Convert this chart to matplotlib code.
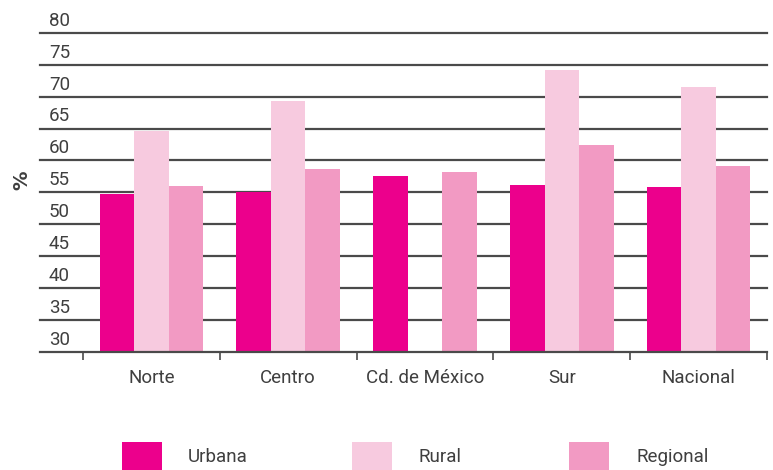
import matplotlib
matplotlib.use("Agg")
import matplotlib.pyplot as plt
from matplotlib.patches import Rectangle
import numpy as np

categories = ["Norte", "Centro", "Cd. de México", "Sur", "Nacional"]
series_names = ["Urbana", "Rural", "Regional"]
urbana = [54.8, 55.0, 57.6, 56.2, 55.9]
rural = [64.7, 69.4, np.nan, 74.2, 71.5]
regional = [56.0, 58.7, 58.2, 62.5, 59.2]
yticks = [30, 35, 40, 45, 50, 55, 60, 65, 70, 75, 80]

colors = ["#EC008C", "#F7CADF", "#F29AC3"]
text_color = "#3f3f3f"
fam = ["Roboto", "DejaVu Sans"]
fs = 13.5
tkw = dict(family=fam, fontsize=fs, fontweight="normal")

W, H = 773, 470
fig = plt.figure(figsize=(W / 100, H / 100), dpi=100)
ax = fig.add_axes([40 / W, (H - 351.7) / H, (767 - 40) / W, (351.7 - 33) / H])

x = np.arange(len(categories))
bw = 0.252
for i, (vals, c) in enumerate(zip([urbana, rural, regional], colors)):
    v = np.array(vals, dtype=float)
    ax.bar(x + (i - 1) * bw, v - 30, bottom=30, width=bw, color=c, zorder=3,
           linewidth=0)

ax.set_xlim(-0.814, 4.5)
ax.set_ylim(30, 80)

for yv in yticks:
    if yv > 30:
        ax.axhline(yv, color="#4a4a4a", lw=1.6, zorder=1, clip_on=False)
    ax.annotate(str(yv), xy=(0.0124, yv), xycoords=ax.get_yaxis_transform(),
                xytext=(0, 2.3), textcoords="offset points", ha="left", va="bottom",
                color=text_color, zorder=5, **tkw)

for s in ["left", "right", "top"]:
    ax.spines[s].set_visible(False)
ax.spines["bottom"].set_color("#4a4a4a")
ax.spines["bottom"].set_linewidth(1.6)
ax.spines["bottom"].set_zorder(4)

ax.set_yticks([])
ax.set_xticks(x)
ax.set_xticklabels(categories, color=text_color, **tkw)
ax.tick_params(axis="x", which="major", length=0, pad=12.5)
ax.set_xticks(np.arange(-0.5, 4.6, 1.0), minor=True)
ax.tick_params(axis="x", which="minor", length=5.5, width=1.2, color="#4a4a4a",
               direction="out")

fig.text(22 / W, 1 - 180 / H, "%", rotation=90, ha="center", va="center",
         fontsize=14, fontweight="bold", color=text_color, family=["DejaVu Sans"])

legend_sq = [122, 352, 569]
legend_tx = [188, 419, 636]
for name, c, sx, tx in zip(series_names, colors, legend_sq, legend_tx):
    fig.patches.append(Rectangle((sx / W, 0), 40 / W, (470 - 442) / H,
                                 transform=fig.transFigure, color=c, lw=0))
    fig.text(tx / W, 1 - 457 / H, name, ha="left", va="center",
             color=text_color, **tkw)

fig.savefig("out.png", dpi=100)
